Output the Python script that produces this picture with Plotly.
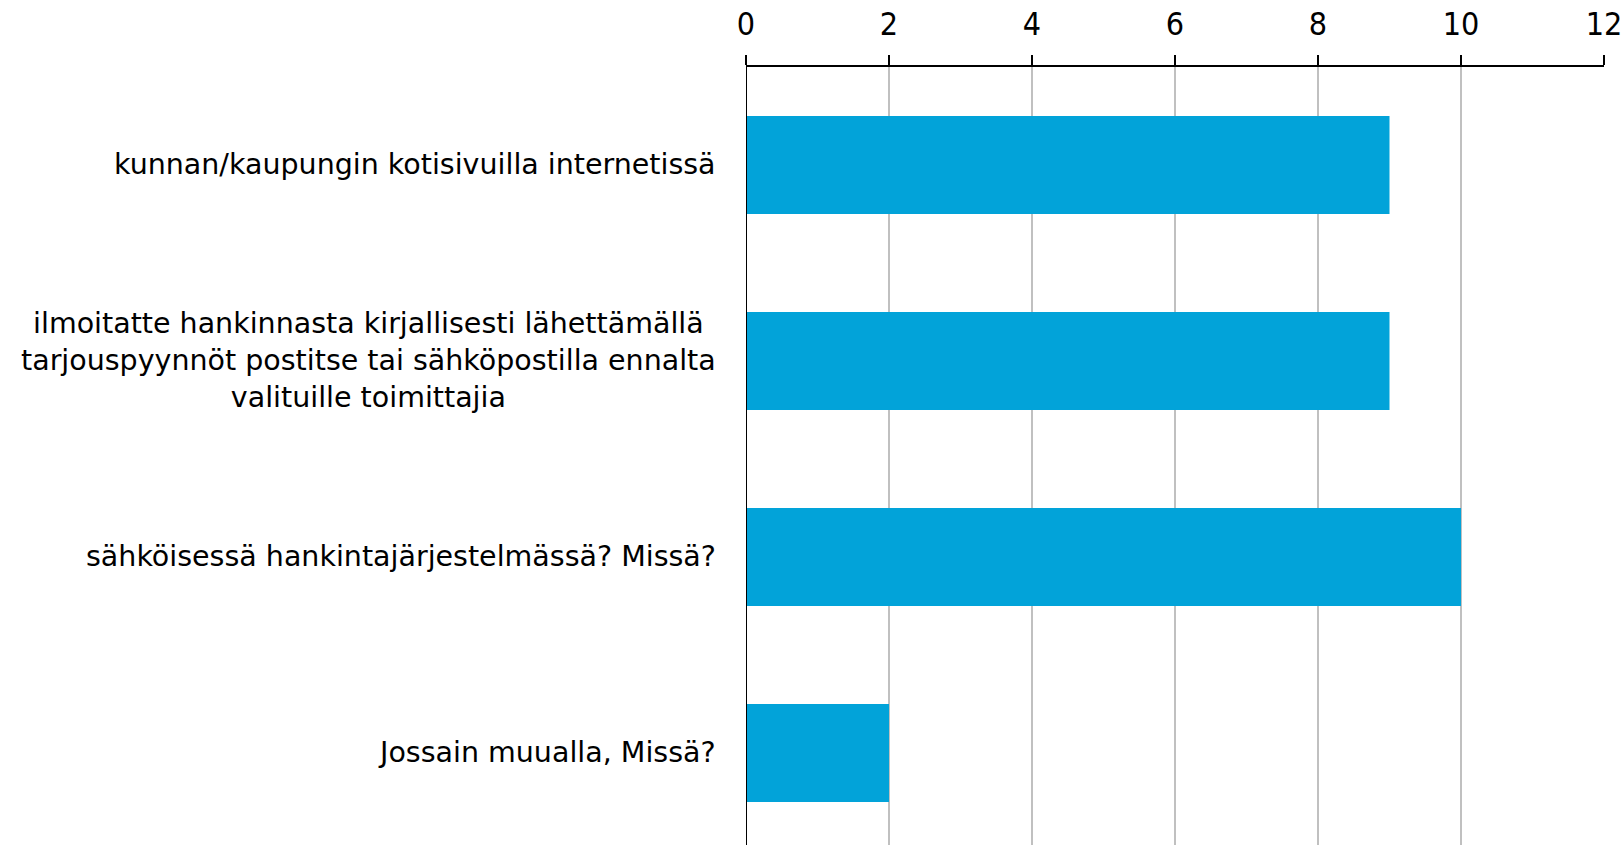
import plotly.graph_objects as go

# Données
categories = [
    "kunnan/kaupungin kotisivuilla internetissä",
    "ilmoitatte hankinnasta kirjallisesti lähettämällä<br>tarjouspyynnöt postitse tai sähköpostilla ennalta<br>valituille toimittajia",
    "sähköisessä hankintajärjestelmässä? Missä?",
    "Jossain muualla, Missä?",
]
valeurs = [9, 9, 10, 2]
ticks_x = [0, 2, 4, 6, 8, 10, 12]

COULEUR_BARRE = "#02A3D9"
POLICE_LABELS = "DejaVu Sans"
POLICE_TICKS = "DejaVu Sans Condensed"

fig = go.Figure()
fig.add_trace(go.Bar(
    x=valeurs, y=list(range(len(categories))),
    orientation="h",
    marker=dict(color=COULEUR_BARRE, line=dict(width=0)),
    showlegend=False, hoverinfo="skip",
))

# Libellés des catégories (centrés sur plusieurs lignes)
for i, cat in enumerate(categories):
    fig.add_annotation(
        x=0, y=i, xref="x", yref="y",
        text=cat, showarrow=False,
        xanchor="right", yanchor="middle", align="center",
        xshift=-28,
        font=dict(family=POLICE_LABELS, size=28.5, color="#000000"),
    )

axe_x = dict(
    range=[0, 12], tickvals=ticks_x, side="top",
    showgrid=True, gridcolor="#c0c0c0", gridwidth=2,
    showline=True, linecolor="#000000", linewidth=2,
    zeroline=False,
)

fig.update_layout(
    width=1624, height=845,
    paper_bgcolor="white", plot_bgcolor="white",
    margin=dict(l=746, r=20, t=67, b=0),
    bargap=0.5,
    xaxis=dict(
        **axe_x,
        ticks="outside", ticklen=10, tickwidth=2, tickcolor="#000000",
        ticklabelstandoff=7, ticklabeloverflow="allow",
        tickfont=dict(family=POLICE_TICKS, size=32, color="#000000"),
    ),
    xaxis2=dict(
        **axe_x,
        overlaying="x", anchor="y",
        ticks="inside", ticklen=10, tickwidth=2, tickcolor="#000000",
        showticklabels=False,
    ),
    yaxis=dict(
        range=[3.47, -0.5], showticklabels=False, ticks="",
        showgrid=False, zeroline=False,
        showline=False,
    ),
)

# Ligne verticale de l'axe des catégories (à x = 0)
fig.add_vline(x=0, line=dict(color="#000000", width=2))

# supprime la marge par défaut du <body> et la barre d'outils
fig.write_html(
    "out.html",
    config={"displayModeBar": False},
    post_script="document.body.style.margin='0';",
)
